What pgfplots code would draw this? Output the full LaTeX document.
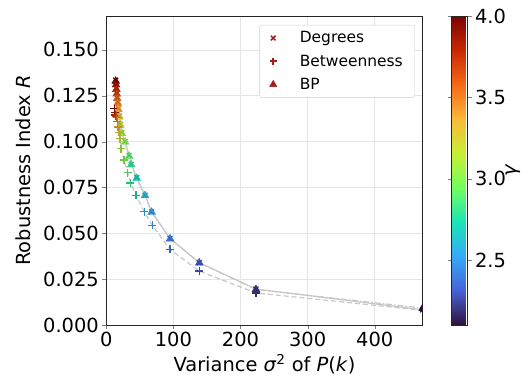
\documentclass[border=0pt]{standalone}
\usepackage{pgfplots}
\usepackage{pgfplotstable}
\pgfplotsset{compat=1.18}
\usepackage{fontspec}
\setmainfont{DejaVu Sans}
\definecolor{legred}{RGB}{165,28,28}
\pgfplotsset{colormap={turbo}{rgb255=(48,18,59) rgb255=(70,98,215) rgb255=(54,170,249) rgb255=(26,228,182) rgb255=(114,254,94) rgb255=(199,239,52) rgb255=(251,185,56) rgb255=(245,105,24) rgb255=(201,41,3) rgb255=(122,4,3)}}
\pgfplotstableread{
g   xd    d      xb    b      p
4.0 14.0  0.1335 12.0  0.1180 0.1330
3.9 14.5  0.1315 12.5  0.1160 0.1310
3.8 15.0  0.1290 13.5  0.1145 0.1285
3.7 15.5  0.1265 14.5  0.1140 0.1260
3.6 16.2  0.1240 15.5  0.1130 0.1235
3.5 17.0  0.1215 16.5  0.1110 0.1210
3.4 18.0  0.1180 17.5  0.1080 0.1175
3.3 19.5  0.1140 19.0  0.1050 0.1135
3.2 21.0  0.1095 20.5  0.1016 0.1090
3.1 23.0  0.1050 22.0  0.0962 0.1045
3.0 28.0  0.1000 26.5  0.0900 0.0998
2.9 34.0  0.0925 32.0  0.0831 0.0920
2.8 37.0  0.0876 36.0  0.0775 0.0874
2.7 45.3  0.0804 44.3  0.0708 0.0800
2.6 57.7  0.0708 56.6  0.0617 0.0706
2.5 67.6  0.0617 68.6  0.0544 0.0615
2.4 95.0  0.0472 95.0  0.0412 0.0470
2.3 138.6 0.0340 138.6 0.0294 0.0339
2.2 223.0 0.0196 223.0 0.0175 0.0194
2.1 471.5 0.0083 471.5 0.0080 0.0092
}\data
\begin{document}
\begin{tikzpicture}
\begin{axis}[
  name=main,
  scale only axis,
  width=316.4bp, height=309bp,
  xmin=0, xmax=471.5, ymin=0, ymax=0.1685,
  xtick={0,100,200,300,400},
  ytick={0,0.025,0.05,0.075,0.1,0.125,0.15},
  scaled y ticks=false,
  yticklabel style={/pgf/number format/.cd, fixed, fixed zerofill, precision=3},
  /pgf/number format/assume math mode=true,
  tick label style={font=\fontsize{19.5}{22}\selectfont},
  label style={font=\fontsize{19.5}{22}\selectfont},
  ylabel style={yshift=6bp},
  tick align=outside,
  major tick length=4bp,
  xtick pos=bottom, ytick pos=left,
  axis line style={black!85, line width=0.8pt},
  grid=major,
  major grid style={black!10, line width=0.8pt},
  xlabel={Variance \textit{σ}\textsuperscript{2} of \textit{P}(\textit{k})},
  ylabel={Robustness Index \textit{R}},
  colormap name=turbo,
  point meta min=2.1, point meta max=4.0,
  clip marker paths=true,
  colorbar,
  colorbar style={
    scale only axis,
    at={(parent axis.north east)}, anchor=north west, xshift=20.6bp,
    width=15.7bp, height=309bp,
    ytick={2.5,3.0,3.5,4.0},
    yticklabel style={/pgf/number format/.cd, fixed, fixed zerofill, precision=1},
    /pgf/number format/assume math mode=true,
    tick label style={font=\fontsize{19.5}{22}\selectfont},
    label style={font=\fontsize{19.5}{22}\selectfont},
    ylabel={\textit{γ}},
    ylabel style={yshift=7bp},
    tick align=outside,
    major tick length=4bp,
    axis line style={black!85, line width=0.8pt},
  },
  legend style={at={(0.9756,0.9709)}, anchor=north east, draw=black!20, rounded corners=2pt,
    font=\fontsize{15.5}{18}\selectfont, row sep=6.5pt, inner xsep=10bp, inner ysep=4.5bp,
    /tikz/every odd column/.append style={column sep=21bp}},
  legend cell align=left,
]
\addplot[black!22, line width=1.2pt, forget plot] table[x=xd, y=d] {\data};
\addplot[black!22, line width=1.2pt, dash pattern=on 5pt off 3pt, forget plot] table[x=xb, y=b] {\data};
\addplot[black!22, line width=1.2pt, dash pattern=on 6pt off 2pt on 1.5pt off 2pt, forget plot] table[x=xd, y=p] {\data};
\addplot[scatter, only marks, mark=triangle*, mark size=4.5, scatter src=explicit, forget plot] table[x=xd, y=p, meta=g] {\data};
\addplot[scatter, only marks, mark=+, mark size=4, line width=1.3pt, scatter src=explicit, forget plot] table[x=xb, y=b, meta=g] {\data};
\addplot[scatter, only marks, mark=x, mark size=3.5, line width=1.3pt, scatter src=explicit, forget plot] table[x=xd, y=d, meta=g] {\data};
\addlegendimage{only marks, color=legred, mark=x, mark size=3.3, mark options={solid, legred, line width=1.5pt}}
\addlegendentry{Degrees}
\addlegendimage{only marks, color=legred, mark=+, mark size=3.6, mark options={solid, legred, line width=1.6pt}}
\addlegendentry{Betweenness}
\addlegendimage{only marks, color=legred, mark=triangle*, mark size=4.2, mark options={solid, draw=legred, fill=legred}}
\addlegendentry{BP}
\end{axis}
\pgfresetboundingbox
\path ([xshift=-106.3bp,yshift=-59bp]main.south west) rectangle ([xshift=108.3bp,yshift=16bp]main.north east);
\end{tikzpicture}
\end{document}
